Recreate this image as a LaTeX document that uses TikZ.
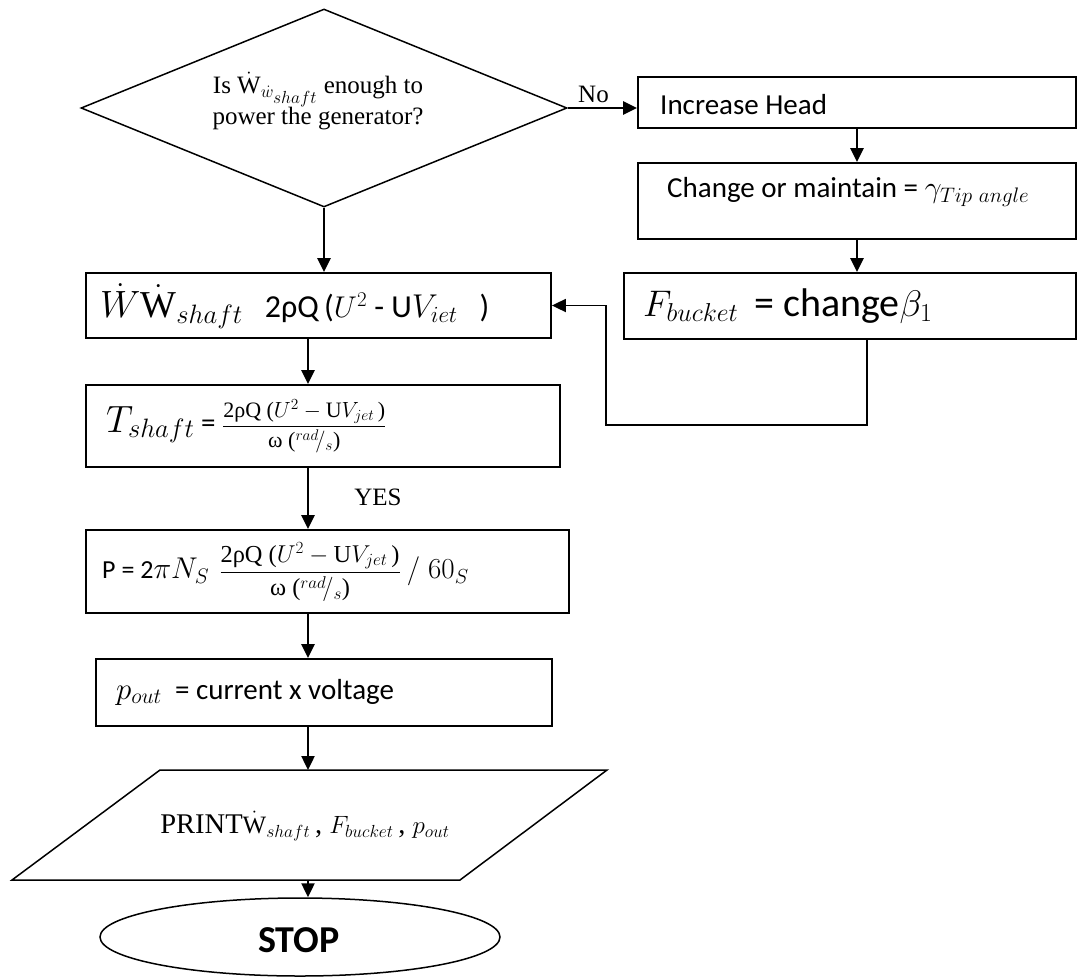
\RequirePackage{fix-cm}
\documentclass[tikz,border=0pt]{standalone}
\usepackage{amsmath}
\usepackage{fontspec}
\setmainfont{Liberation Serif}
\newfontfamily\calib{Carlito}
\usetikzlibrary{arrows.meta,shapes.geometric}
\newcommand\msz[2]{{\fontsize{#1}{#1}\selectfont$#2$}}
\newcommand\fracnum{\text{\rmfamily 2ρQ (}U^2-\text{\rmfamily U}V_{jet}\text{\rmfamily\,)}}
\newcommand\fracden{\text{\rmfamily ω (}{}^{rad}\!/_{s}\text{\rmfamily )}}
\tikzset{
  box/.style={draw, line width=1.8pt, rectangle, inner sep=0pt},
  arr/.style={line width=2.4pt, -{Triangle[length=14pt,width=13pt]}},
  fbline/.style={line width=1.8pt, -{Triangle[length=14pt,width=13pt]}},
  ctxt/.style={font=\calib\fontsize{29}{35}\selectfont, anchor=west, inner sep=0pt},
  ttxt/.style={font=\fontsize{25}{31}\selectfont, inner sep=0pt}
}
\begin{document}
\begin{tikzpicture}[x=1pt,y=-1pt]
\useasboundingbox (0,0) rectangle (1091,979);
% column coordinates
\coordinate (cL) at (308,0);
\coordinate (cR) at (857,0);
\coordinate (cF) at (867,0);
\coordinate (lp) at (606,425);
% decision
\node[diamond, draw, line width=1.5pt, minimum width=486pt, minimum height=198pt, inner sep=0pt] (dia) at (324,108) {};
\node[ttxt, align=center] (diat) at (318,101) {Is $\dot{\mathrm{W}}_{\dot{w}_{\scriptstyle shaft}}$ enough to\\power the generator?};
\node[ttxt, anchor=south west] (no) at (578,103) {No};
% right column
\node[box, minimum width=438pt, minimum height=51pt] (inc) at (857,102.5) {};
\node[ctxt] (inct) at (660,105) {Increase Head};
\node[box, minimum width=438pt, minimum height=76pt] (chg) at (857,201) {};
\node[ctxt] (chgt) at (667,192) {Change or maintain = \msz{30}{\gamma_{Tip\ angle}}};
\node[box, minimum width=452pt, minimum height=66pt] (fbx) at (850,306) {};
\node[ctxt, font=\calib\fontsize{40}{46}\selectfont] (fbxt) at (643,306) {\msz{37}{F_{bucket}}\hspace{16pt}= change\msz{37}{\beta_1}};
% left column
\node[box, minimum width=465pt, minimum height=65pt] (wbx) at (318.5,305.5) {};
\node[ctxt, font=\calib\fontsize{32}{38}\selectfont] (wbxt) at (100,306) {\msz{38}{\dot{W}\dot{\mathrm{W}}_{shaft}}\hspace{22pt}2ρQ\,(\msz{30}{U^2} - U\msz{33}{V_{iet}}\hspace{22pt})};
\node[box, minimum width=474pt, minimum height=82pt] (tbx) at (323,426) {};
\node[ctxt] (tbxt) at (106,426) {\msz{38}{T_{shaft}}\ = {\fontsize{22}{26}\selectfont$\dfrac{\fracnum}{\fracden}$}};
\node[ttxt] (yes) at (378,497) {YES};
\node[box, minimum width=483pt, minimum height=83pt] (pbx) at (327.5,571.5) {};
\node[ctxt, font=\calib\fontsize{26}{30}\selectfont] (pbxt) at (102,572) {P = 2\msz{30}{\pi N_S}\, {\fontsize{24.4}{28}\selectfont$\dfrac{\fracnum}{\fracden}$}\hspace{6pt}\msz{29}{/\;60_S}};
\node[box, minimum width=456pt, minimum height=67pt] (obx) at (324,692.5) {};
\node[ctxt] (obxt) at (116,692) {\msz{31}{p_{out}}\ \ = current x voltage};
% print parallelogram
\draw[line width=1.5pt] (12,880) -- (160,770) -- (607,770) -- (460,880) -- cycle;
\coordinate (prt) at (308,770);
\coordinate (prb) at (308,880);
\node[font=\fontsize{28.5}{34}\selectfont, inner sep=0pt] (prtxt) at (305,826) {PRINT\msz{25}{\dot{\mathrm{W}}_{shaft}}\,, \msz{25}{F_{bucket}}\,, \msz{25}{p_{out}}};
% stop
\node[ellipse, draw, line width=1.5pt, minimum width=400pt, minimum height=78pt, inner sep=0pt] (stop) at (300,937) {};
\node[font=\calib\bfseries\fontsize{38}{44}\selectfont, inner sep=0pt] (stopt) at (299,940) {STOP};
% connectors
\draw[arr] (dia.east) -- (dia.east -| inc.west);
\draw[arr] (inc.south -| cR) -- (chg.north -| cR);
\draw[arr] (chg.south -| cR) -- (fbx.north -| cR);
\draw[fbline] (fbx.south -| cF) |- (lp) |- (wbx.east);
\draw[arr] (dia.south) -- (dia.south |- wbx.north);
\draw[arr] (wbx.south -| cL) -- (tbx.north -| cL);
\draw[arr] (tbx.south -| cL) -- (pbx.north -| cL);
\draw[arr] (pbx.south -| cL) -- (obx.north -| cL);
\draw[arr] (obx.south -| cL) -- (prt);
\draw[arr] (prb) -- (prb |- stop.north);
\end{tikzpicture}
\end{document}
